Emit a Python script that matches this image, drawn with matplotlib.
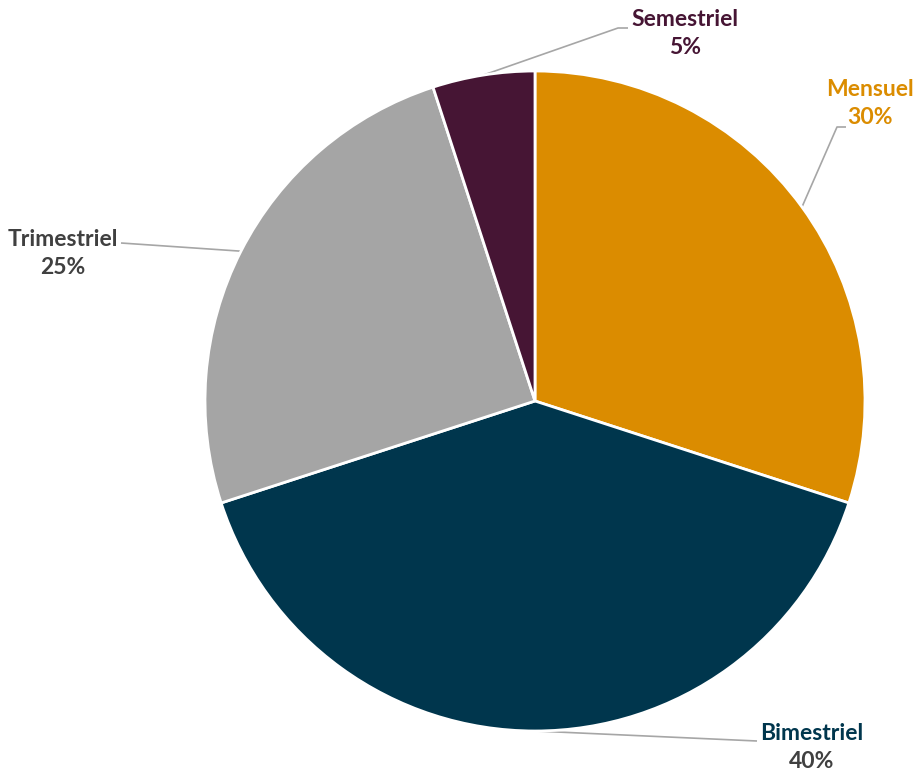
import matplotlib
matplotlib.use("Agg")
import matplotlib.pyplot as plt
import numpy as np

categories = ["Mensuel", "Bimestriel", "Trimestriel", "Semestriel"]
values = [30, 40, 25, 5]
colors = ["#DB8C00", "#00364D", "#A5A5A5", "#461534"]
name_colors = ["#DB8C00", "#00364D", "#404040", "#461534"]
pct_colors = ["#DB8C00", "#404040", "#404040", "#461534"]

W, H = 917, 772
fig = plt.figure(figsize=(W / 100, H / 100), dpi=100)
ax = fig.add_axes([0, 0, 1, 1])
ax.set_xlim(0, W)
ax.set_ylim(0, H)
ax.axis("off")

cx, cy, R = 535, H - 401, 330
wedges, _ = ax.pie(values, center=(cx, cy), radius=R, startangle=90,
                   counterclock=False, colors=colors,
                   wedgeprops=dict(edgecolor="white", linewidth=2))
ax.set_xlim(0, W)
ax.set_ylim(0, H)
ax.set_aspect("equal")

# label placement (pixel coords): text center x, name y, elbow point, line end
label_pos = {
    "Mensuel": dict(x=870, y=89, elbow=(837, 127), end=(846, 127)),
    "Bimestriel": dict(x=812, y=734, elbow=None, end=(757, 741)),
    "Trimestriel": dict(x=63, y=239, elbow=None, end=(121, 243)),
    "Semestriel": dict(x=685, y=20, elbow=(618, 28), end=(628, 28)),
}

font = dict(family="Lato", fontsize=16.5, fontweight="bold")

for w, cat, v, nc, pc in zip(wedges, categories, values, name_colors, pct_colors):
    th = np.deg2rad((w.theta1 + w.theta2) / 2)
    ax_pt = (cx + R * np.cos(th), cy + R * np.sin(th))
    p = label_pos[cat]
    pts = [ax_pt]
    if p["elbow"] is not None:
        pts.append((p["elbow"][0], H - p["elbow"][1]))
    pts.append((p["end"][0], H - p["end"][1]))
    xs, ys = zip(*pts)
    ax.plot(xs, ys, color="#A6A6A6", linewidth=1.2, zorder=0.5, solid_capstyle="butt")
    ax.text(p["x"], H - p["y"], cat, color=nc, ha="center", va="center", **font)
    ax.text(p["x"], H - p["y"] - 28, f"{v}%", color=pc, ha="center", va="center", **font)

fig.savefig("out.png", dpi=100)
